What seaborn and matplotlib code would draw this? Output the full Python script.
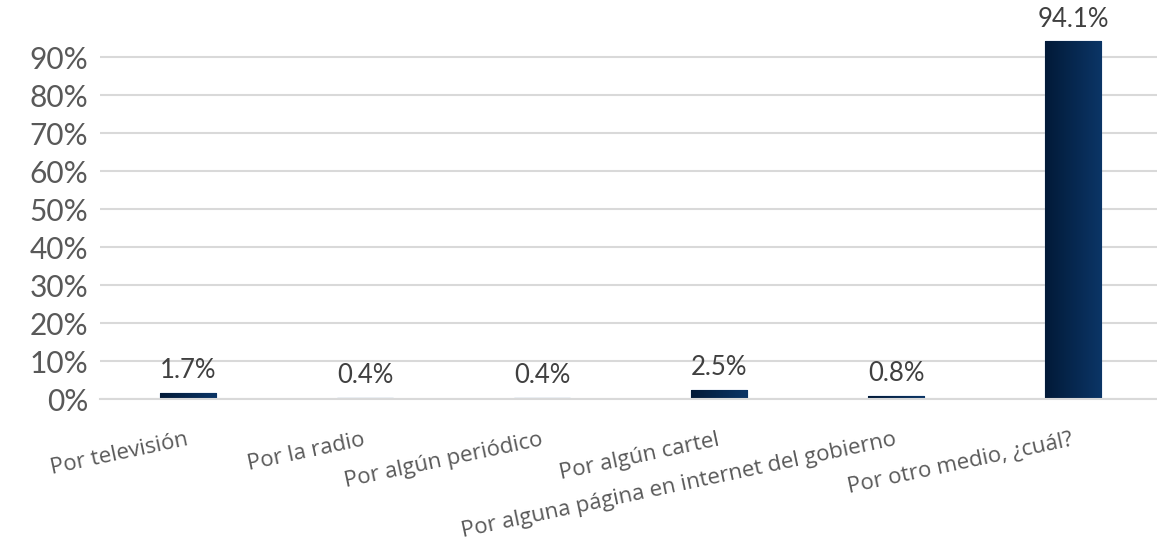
import numpy as np
import pandas as pd
import seaborn as sns
import matplotlib.pyplot as plt
from matplotlib.colors import LinearSegmentedColormap

categorias = ["Por televisión", "Por la radio", "Por algún periódico", "Por algún cartel",
              "Por alguna página en internet del gobierno", "Por otro medio, ¿cuál?"]
valores = [0.017, 0.004, 0.004, 0.025, 0.008, 0.941]
etiquetas = ["1.7%", "0.4%", "0.4%", "2.5%", "0.8%", "94.1%"]

df = pd.DataFrame({"cat": categorias, "val": valores})

sns.set_style("white")
plt.rcParams['font.family'] = ['Lato', 'DejaVu Sans']

fig = plt.figure(figsize=(11.57, 5.43), dpi=100)
ax = fig.add_axes([0.086, 0.265, 0.918, 0.70])

sns.barplot(data=df, x="cat", y="val", color="#0a2c58", width=0.32, ax=ax)

# gradient fill inside each bar
cmap = LinearSegmentedColormap.from_list("g", ["#021a38", "#0b3566"])
grad = np.linspace(0, 1, 64).reshape(1, -1)
for p in ax.patches:
    x0, y0 = p.get_x(), p.get_y()
    w, h = p.get_width(), p.get_height()
    p.set_edgecolor("#6f8fbd")
    p.set_linewidth(0.9)
    im = ax.imshow(grad, cmap=cmap, aspect="auto", extent=[x0, x0 + w, y0, y0 + h],
                   zorder=p.get_zorder() + 0.1)
    im.set_clip_path(p)

ax.set_xlim(-0.5, 5.5)
ax.set_ylim(0, 1.0)
ax.set_yticks(np.arange(0, 1.0, 0.1))
ax.set_yticklabels([f"{int(round(t*100))}%" for t in np.arange(0, 1.0, 0.1)],
                   fontsize=21.5, color="#595959")
ax.grid(axis="y", color="#d9d9d9", linewidth=1.5)
ax.set_axisbelow(True)
for s in ["top", "right", "left"]:
    ax.spines[s].set_visible(False)
ax.spines["bottom"].set_color("#d9d9d9")
ax.spines["bottom"].set_linewidth(1.5)
ax.tick_params(axis="y", length=0, pad=8)
ax.tick_params(axis="x", length=0)
ax.set_xlabel("")
ax.set_ylabel("")

for i, (v, t) in enumerate(zip(valores, etiquetas)):
    ax.annotate(t, (i, v), xytext=(0, 7), textcoords="offset points", ha="center",
                va="bottom", fontsize=18.5, color="#404040")

# rotated category labels, right end at each category
ax.set_xticks(range(len(categorias)))
ax.set_xticklabels([])
for i, c in enumerate(categorias):
    ax.annotate(c, (i, 0), xytext=(0, -29), textcoords="offset points", ha="right",
                va="center", rotation=12, rotation_mode="anchor", fontsize=16,
                color="#595959", family=["Open Sans", "DejaVu Sans"], annotation_clip=False)

fig.savefig("out.png", dpi=100)
